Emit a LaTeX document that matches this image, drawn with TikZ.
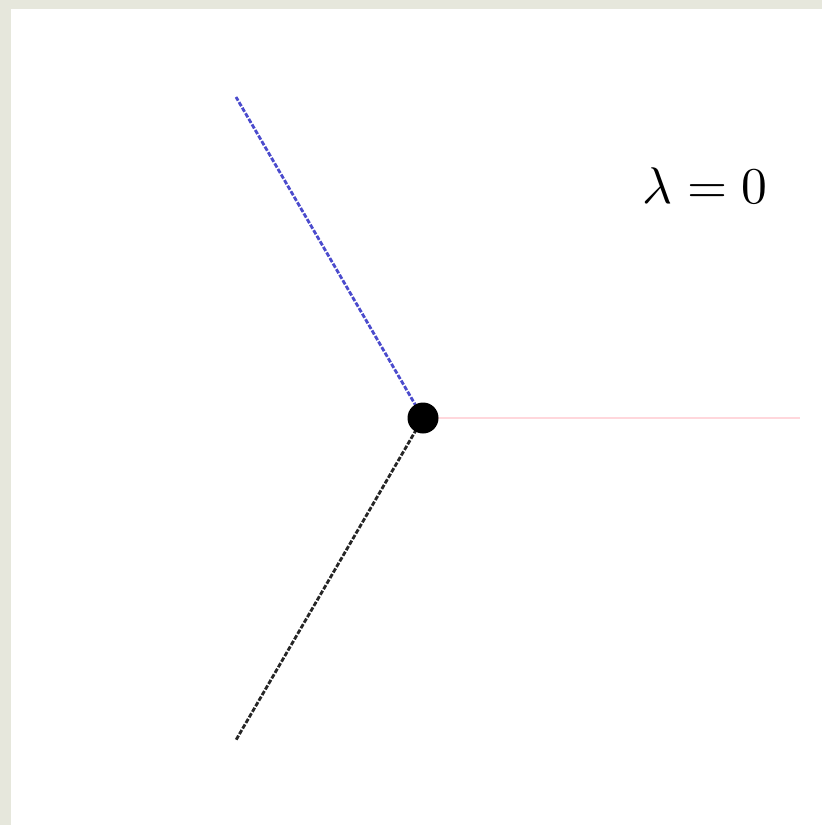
\documentclass[tikz,border=0pt]{standalone}
\usepackage{amsmath}
\usetikzlibrary{positioning}

\definecolor{paper}{RGB}{230,231,220}
\definecolor{rootblue}{RGB}{75,75,205}
\definecolor{rootpink}{RGB}{255,215,220}

\tikzset{
  branch/.style={line width=2.4pt, dash pattern=on 4pt off 1.5pt},
}

\begin{document}
\begin{tikzpicture}[x=0.03cm, y=-0.03cm]

  % Frame
  \fill[paper] (0,0) rectangle (822,825);
  \fill[white] (11,9) rectangle (822,825);
  \useasboundingbox (0,0) rectangle (822,825);

  \coordinate (orig) at (423,418);
  \coordinate (up) at (236,97);
  \coordinate (down) at (236,740);
  \coordinate (right) at (800,418);

  % Root locus branches
  \draw[rootpink, line width=2.2pt] (orig) -- (right);
  \draw[branch, rootblue] (orig) -- (up);
  \draw[branch, black!85] (orig) -- (down);

  % Pole
  \node[circle, fill, inner sep=0pt, minimum size=0.93cm] (pole) at (orig) {};

  % Gain
  \node[scale=4.4] (gain) at (705,186) {$\lambda = 0$};

\end{tikzpicture}
\end{document}
